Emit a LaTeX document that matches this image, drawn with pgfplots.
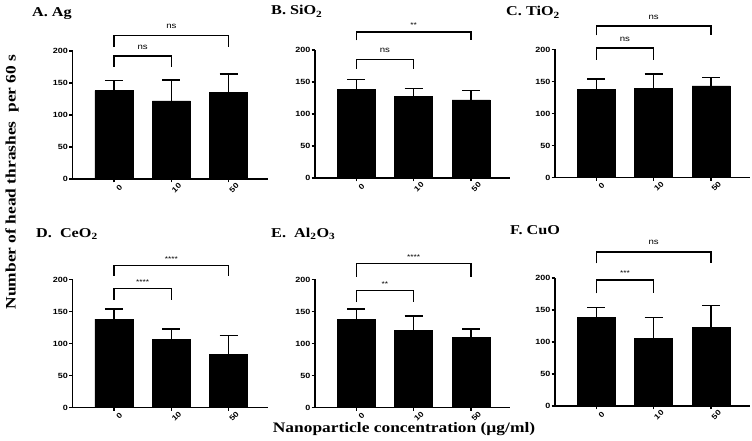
\documentclass[border=0pt]{standalone}
\usepackage{fontspec}
\setmainfont{Liberation Serif}[FakeStretch=1.2]
\newfontfamily\arial{Liberation Sans}[FakeStretch=1.2]
\usepackage{pgfplots}
\pgfplotsset{compat=1.18}
\pgfplotsset{
 panel/.style={
  scale only axis, width=195pt, height=128pt,
  xmin=-0.72, xmax=2.68, ymin=0, ymax=200,
  axis x line*=bottom, axis y line*=left,
  axis line style={line width=1.4pt, -},
  clip=false,
  xtick={0,1,2}, xticklabels={0,10,50},
  ytick={0,50,100,150,200},
  tick align=outside, major tick length=3.5pt,
  tick style={line width=1.3pt, black},
  ticklabel style={font=\arial\bfseries\fontsize{7.5}{8}\selectfont},
  /pgf/number format/assume math mode=true,
  xticklabel style={rotate=45, anchor=center, yshift=-7.5pt},
  yticklabel style={inner sep=1pt},
  anchor=south west,
 },
 bars/.style={ybar, bar width=38pt, bar shift=0pt, fill=black, draw=black,
   error bars/.cd, y dir=plus, y explicit,
   error bar style={line width=1.5pt, black},
   error mark options={rotate=90, mark size=9pt, line width=1.5pt, black}},
 brk/.style={sharp plot, no marks, line width=1.5pt, black},
}
\tikzset{
 sig/.style={font=\arial\fontsize{8}{9}\selectfont, anchor=south, inner sep=0pt, yshift=6.5pt},
 ast/.style={font=\arial\fontsize{7}{8}\selectfont, anchor=south, inner sep=0pt, yshift=4pt},
 ttl/.style={anchor=base west, inner sep=0pt, font=\bfseries\fontsize{13.5}{15}\selectfont},
 lbl/.style={inner sep=0pt, font=\bfseries\fontsize{14.5}{16}\selectfont},
}
\begin{document}
\begin{tikzpicture}
\useasboundingbox (0,0) rectangle (752pt,441pt);
% A
\begin{axis}[panel, at={(72.7pt,262pt)}]
\addplot[bars] coordinates {(0,138) +- (0,15.8) (1,122) +- (0,32.8) (2,135) +- (0,29)};
\addplot[brk] coordinates {(0,175) (0,192) (1,192) (1,175)};
\addplot[brk] coordinates {(0,206) (0,224.5) (2,224.5) (2,206)};
\node[sig] at (axis cs:0.5,192) {ns};
\node[sig] at (axis cs:1,224.5) {ns};
\end{axis}
% B
\begin{axis}[panel, at={(315pt,263pt)}]
\addplot[bars] coordinates {(0,138) +- (0,15.8) (1,128) +- (0,11.7) (2,122) +- (0,14.5)};
\addplot[brk] coordinates {(0,171) (0,185) (1,185) (1,171)};
\addplot[brk] coordinates {(0,215) (0,228) (2,228) (2,215)};
\node[sig] at (axis cs:0.5,185) {ns};
\node[ast] at (axis cs:1,228) {**};
\end{axis}
% C
\begin{axis}[panel, at={(555pt,263.5pt)}]
\addplot[bars] coordinates {(0,138) +- (0,15.8) (1,139) +- (0,23) (2,143) +- (0,13)};
\addplot[brk] coordinates {(0,184) (0,202) (1,202) (1,184)};
\addplot[brk] coordinates {(0,222) (0,237) (2,237) (2,222)};
\node[sig] at (axis cs:0.5,202) {ns};
\node[sig] at (axis cs:1,237) {ns};
\end{axis}
% D
\begin{axis}[panel, at={(72.7pt,33.5pt)}]
\addplot[bars] coordinates {(0,138) +- (0,15.8) (1,107) +- (0,15.7) (2,83.5) +- (0,29.3)};
\addplot[brk] coordinates {(0,168.7) (0,186) (1,186) (1,168.7)};
\addplot[brk] coordinates {(0,206) (0,222) (2,222) (2,206)};
\node[ast] at (axis cs:0.5,186) {****};
\node[ast] at (axis cs:1,222) {****};
\end{axis}
% E
\begin{axis}[panel, at={(315pt,33.5pt)}]
\addplot[bars] coordinates {(0,138) +- (0,15.8) (1,120) +- (0,22.6) (2,110) +- (0,12.7)};
\addplot[brk] coordinates {(0,164.5) (0,183) (1,183) (1,164.5)};
\addplot[brk] coordinates {(0,204) (0,225) (2,225) (2,204)};
\node[ast] at (axis cs:0.5,183) {**};
\node[ast] at (axis cs:1,225) {****};
\end{axis}
% F
\begin{axis}[panel, at={(555pt,35pt)}]
\addplot[bars] coordinates {(0,138) +- (0,15.8) (1,105.5) +- (0,33) (2,122.7) +- (0,34.3)};
\addplot[brk] coordinates {(0,176) (0,197) (1,197) (1,176)};
\addplot[brk] coordinates {(0,223) (0,241) (2,241) (2,223)};
\node[ast] at (axis cs:0.5,197) {***};
\node[sig] at (axis cs:1,241) {ns};
\end{axis}
% titles
\node[ttl] at (32pt,424.3pt) {A. Ag};
\node[ttl] at (271pt,426pt) {B. SiO\textsubscript{2}};
\node[ttl] at (506pt,425pt) {C. TiO\textsubscript{2}};
\node[ttl] at (36pt,203.7pt) {D.\ \ CeO\textsubscript{2}};
\node[ttl] at (271pt,203.7pt) {E.\ \ Al\textsubscript{2}O\textsubscript{3}};
\node[ttl] at (510pt,206pt) {F. CuO};
\node[lbl, rotate=90] at (12pt,259pt) {Number of head thrashes\ \ per 60 s};
\node[lbl] at (404pt,12pt) {Nanoparticle concentration (µg/ml)};
\end{tikzpicture}
\end{document}
